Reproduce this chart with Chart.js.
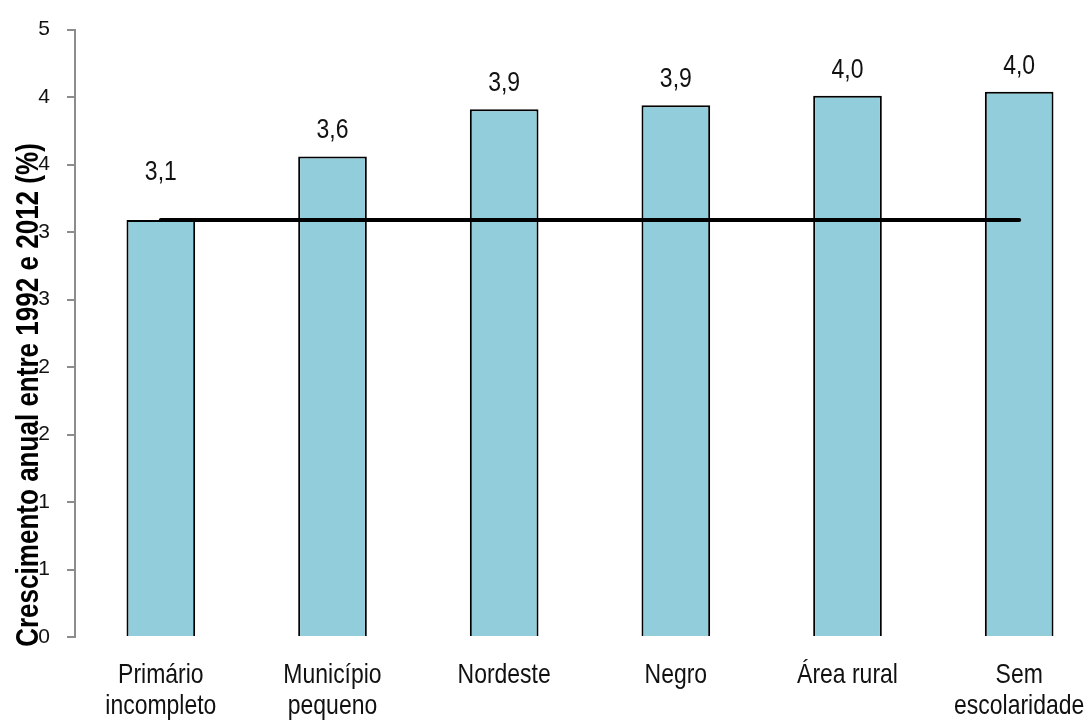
<!DOCTYPE html>
<html>
<head>
<meta charset="utf-8">
<script src="https://cdn.jsdelivr.net/npm/chart.js@4.4.0/dist/chart.umd.min.js"></script>
<style>
  html, body { margin: 0; padding: 0; overflow: hidden; background: #ffffff; }
  #wrap { position: relative; width: 1110px; height: 720px; }
</style>
</head>
<body>
<div id="wrap"><canvas id="c" width="1110" height="720"></canvas></div>
<script>
// Categories and values
const categories = [['Primário', 'incompleto'], ['Município', 'pequeno'], ['Nordeste'], ['Negro'], ['Área rural'], ['Sem', 'escolaridade']];
const growthValues = [3.09, 3.56, 3.91, 3.94, 4.01, 4.04];
const averageLine = [3.09, 3.09, 3.09, 3.09, 3.09, 3.09];
const yTickLabels = ['0', '1', '1', '2', '2', '3', '3', '4', '4', '5'];
const axisTitle = 'Crescimento anual entre 1992 e 2012 (%)';

const SANS = "'Liberation Sans', Arial, sans-serif";
const CONDENSE = 0.82; // horizontal squeeze to get a narrow face

function fmtValue(v) {
  return v.toFixed(1).replace('.', ',');
}

// Draws text squeezed horizontally around its anchor point
function narrowText(ctx, text, x, y, squeeze) {
  ctx.save();
  ctx.translate(x, y);
  ctx.scale(squeeze, 1);
  ctx.fillText(text, 0, 0);
  ctx.restore();
}

// Value labels above bars and category names under the axis
const barText = {
  id: 'barText',
  afterDatasetsDraw(chart, args, opts) {
    const ctx = chart.ctx;
    const meta = chart.getDatasetMeta(1);
    ctx.save();
    ctx.font = '28px ' + SANS;
    ctx.fillStyle = '#111111';
    ctx.textAlign = 'center';
    ctx.textBaseline = 'alphabetic';
    meta.data.forEach((bar, i) => {
      const lift = (opts.extraLift && opts.extraLift[i]) || 0;
      narrowText(ctx, fmtValue(growthValues[i]), bar.x, bar.y - opts.gap - lift, CONDENSE);
      const lines = categories[i];
      lines.forEach((line, k) => {
        narrowText(ctx, line, bar.x, opts.labelBaseline + k * opts.labelLine, CONDENSE);
      });
    });
    ctx.restore();
  }
};

// Rotated y-axis title
const yTitle = {
  id: 'yTitle',
  afterDraw(chart, args, opts) {
    const ctx = chart.ctx;
    ctx.save();
    ctx.translate(opts.x, opts.y);
    ctx.rotate(-Math.PI / 2);
    ctx.scale(opts.squeeze, 1);
    ctx.font = 'bold 31px ' + SANS;
    ctx.fillStyle = '#000000';
    ctx.textAlign = 'center';
    ctx.textBaseline = 'alphabetic';
    ctx.fillText(axisTitle, 0, 0);
    ctx.restore();
  }
};

new Chart(document.getElementById('c'), {
  data: {
    labels: categories.map(c => c.join(' ')),
    datasets: [
      {
        type: 'line',
        data: averageLine,
        borderColor: '#000000',
        borderWidth: 4,
        borderCapStyle: 'round',
        pointRadius: 0,
        fill: false,
        order: 0
      },
      {
        type: 'bar',
        data: growthValues,
        backgroundColor: '#92CDDC',
        borderColor: '#000000',
        borderWidth: 2,
        categoryPercentage: 1,
        barPercentage: 0.4,
        order: 1
      }
    ]
  },
  options: {
    responsive: false,
    animation: false,
    layout: { padding: { top: 25, right: 5, left: 0, bottom: 0 } },
    plugins: {
      legend: { display: false },
      tooltip: { enabled: false },
      barText: { gap: 18, extraLift: [22, 0, 0, 0, 0, 0], labelBaseline: 683, labelLine: 31 },
      yTitle: { x: 38, y: 395, squeeze: 0.84 }
    },
    scales: {
      x: {
        offset: true,
        grid: { display: false },
        border: { display: false },
        ticks: { display: false },
        afterFit(scale) { scale.height = 83; }
      },
      y: {
        min: 0,
        max: 4.5,
        ticks: {
          stepSize: 0.5,
          padding: 17,
          color: '#111111',
          font: { family: SANS, size: 21 },
          callback: (value, index) => yTickLabels[index]
        },
        grid: {
          drawOnChartArea: false,
          drawTicks: true,
          tickLength: 8,
          color: '#8c8c8c',
          lineWidth: 2
        },
        border: { display: true, color: '#8c8c8c', width: 2 },
        afterFit(scale) { scale.width = 75; }
      }
    }
  },
  plugins: [barText, yTitle]
});
</script>
</body>
</html>
